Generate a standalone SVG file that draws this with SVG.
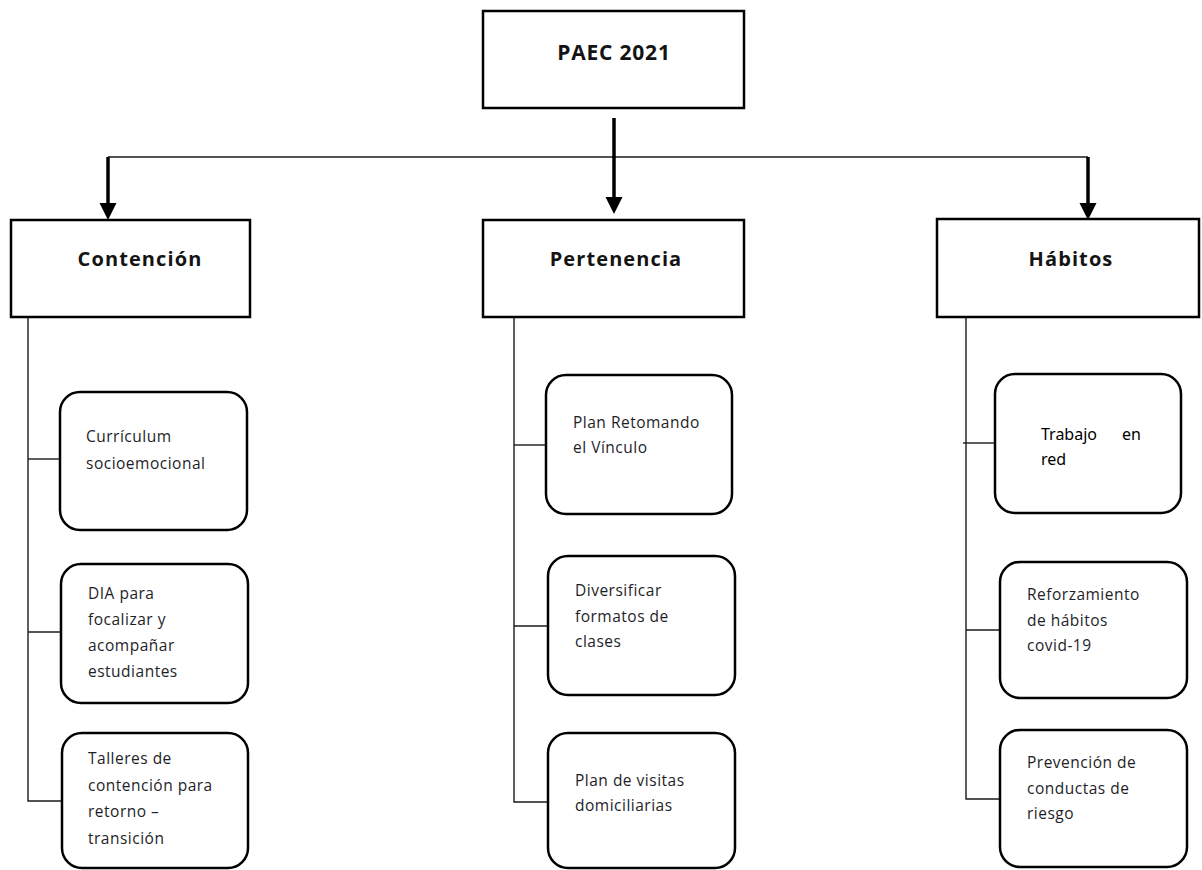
<svg xmlns="http://www.w3.org/2000/svg" width="1202" height="870" viewBox="0 0 1202 870">
<style>
.bg{fill:#ffffff}
.box{fill:#ffffff;stroke:#000;stroke-width:2.5}
.rbox{fill:#ffffff;stroke:#000;stroke-width:2.5}
.thin{fill:none;stroke:#1a1a1a;stroke-width:1.4}
.arrow{fill:none;stroke:#000;stroke-width:3.5}
.head{fill:#000;stroke:none}
.h{font-family:"Open Sans","Noto Sans",sans-serif;font-weight:bold;font-size:20px;letter-spacing:1.1px;fill:#141414;text-anchor:middle}
.t{font-family:"Open Sans","Noto Sans",sans-serif;font-size:15.5px;letter-spacing:0.5px;fill:#1e1e28}
.s{font-family:"Noto Sans","Open Sans",sans-serif;font-size:16px;fill:#000}
</style>
<rect class="bg" x="0" y="0" width="1202" height="870"/>
<g id="connectors">
  <line class="thin" x1="108" y1="157" x2="1088" y2="157"/>
  <line class="arrow" x1="614" y1="118" x2="614" y2="200"/>
  <polygon class="head" points="605.5,197 622.5,197 614,214"/>
  <line class="arrow" x1="108" y1="157" x2="108" y2="206"/>
  <polygon class="head" points="99.5,203 116.5,203 108,220"/>
  <line class="arrow" x1="1088" y1="157" x2="1088" y2="206"/>
  <polygon class="head" points="1079.5,203 1096.5,203 1088,220"/>
  <polyline class="thin" points="28,318 28,801 62,801"/>
  <line class="thin" x1="28" y1="459" x2="60" y2="459"/>
  <line class="thin" x1="28" y1="632" x2="61" y2="632"/>
  <polyline class="thin" points="514,318 514,802 548,802"/>
  <line class="thin" x1="514" y1="445" x2="546" y2="445"/>
  <line class="thin" x1="514" y1="626" x2="548" y2="626"/>
  <polyline class="thin" points="966,318 966,799 1000,799"/>
  <line class="thin" x1="963" y1="443" x2="995" y2="443"/>
  <line class="thin" x1="966" y1="630" x2="1000" y2="630"/>
</g>
<g id="paec">
  <rect class="box" x="483" y="11" width="261" height="97"/>
  <text class="h" x="614" y="60" style="font-size:21px;letter-spacing:0.8px">PAEC 2021</text>
</g>
<g id="contencion">
  <rect class="box" x="11" y="220" width="239" height="97"/>
  <text class="h" x="140" y="266">Contención</text>
</g>
<g id="pertenencia">
  <rect class="box" x="483" y="220" width="261" height="97"/>
  <text class="h" x="616" y="266">Pertenencia</text>
</g>
<g id="habitos">
  <rect class="box" x="937" y="219" width="262" height="98"/>
  <text class="h" x="1071" y="266">Hábitos</text>
</g>
<g id="curriculum">
  <rect class="rbox" x="60" y="392" width="187" height="138" rx="20"/>
  <text class="t" x="86" y="442"><tspan x="86">Currículum</tspan><tspan x="86" dy="27">socioemocional</tspan></text>
</g>
<g id="dia">
  <rect class="rbox" x="61" y="564" width="187" height="139" rx="20"/>
  <text class="t" x="88" y="599"><tspan x="88">DIA para</tspan><tspan x="88" dy="26">focalizar y</tspan><tspan x="88" dy="26">acompañar</tspan><tspan x="88" dy="26">estudiantes</tspan></text>
</g>
<g id="talleres">
  <rect class="rbox" x="62" y="733" width="186" height="135" rx="20"/>
  <text class="t" x="88" y="764"><tspan x="88">Talleres de</tspan><tspan x="88" dy="26.5">contención para</tspan><tspan x="88" dy="26.5">retorno –</tspan><tspan x="88" dy="26.5">transición</tspan></text>
</g>
<g id="plan-retomando">
  <rect class="rbox" x="546" y="375" width="186" height="139" rx="20"/>
  <text class="t" x="573" y="428"><tspan x="573">Plan Retomando</tspan><tspan x="573" dy="25">el Vínculo</tspan></text>
</g>
<g id="diversificar">
  <rect class="rbox" x="548" y="556" width="187" height="139" rx="20"/>
  <text class="t" x="575" y="596"><tspan x="575">Diversificar</tspan><tspan x="575" dy="25.5">formatos de</tspan><tspan x="575" dy="25.5">clases</tspan></text>
</g>
<g id="visitas">
  <rect class="rbox" x="548" y="733" width="187" height="135" rx="20"/>
  <text class="t" x="575" y="786"><tspan x="575">Plan de visitas</tspan><tspan x="575" dy="25">domiciliarias</tspan></text>
</g>
<g id="trabajo-red">
  <rect class="rbox" x="995" y="374" width="186" height="139" rx="20"/>
  <text class="s" x="1041" y="440"><tspan x="1041">Trabajo</tspan><tspan x="1122">en</tspan><tspan x="1041" dy="25">red</tspan></text>
</g>
<g id="reforzamiento">
  <rect class="rbox" x="1000" y="562" width="187" height="136" rx="20"/>
  <text class="t" x="1027" y="600"><tspan x="1027">Reforzamiento</tspan><tspan x="1027" dy="25.5">de hábitos</tspan><tspan x="1027" dy="25.5">covid-19</tspan></text>
</g>
<g id="prevencion">
  <rect class="rbox" x="1000" y="730" width="187" height="137" rx="20"/>
  <text class="t" x="1027" y="768"><tspan x="1027">Prevención de</tspan><tspan x="1027" dy="25.5">conductas de</tspan><tspan x="1027" dy="25.5">riesgo</tspan></text>
</g>
</svg>
